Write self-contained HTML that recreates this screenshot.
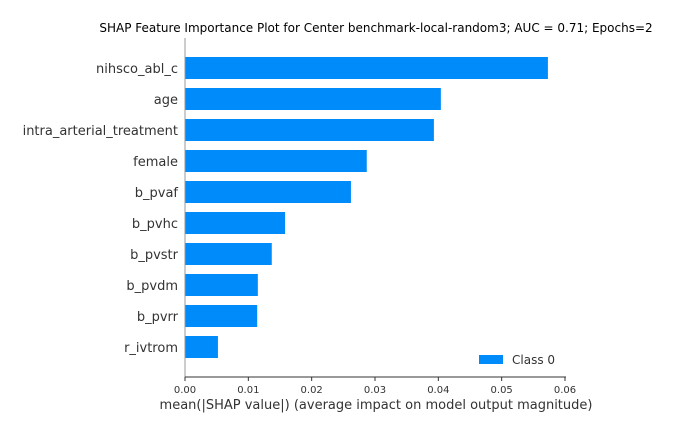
<!DOCTYPE html>
<html><head><meta charset="utf-8"><style>
body{margin:0;background:#fff;}
svg{display:block;font-family:"DejaVu Sans","Liberation Sans",sans-serif;}
</style></head><body>
<svg id="chart" width="674" height="433">
<text x="376" y="32" text-anchor="middle" font-size="12" fill="#000">SHAP Feature Importance Plot for Center benchmark-local-random3; AUC = 0.71; Epochs=2</text>
<g id="bars"></g>
<g id="ylabels"></g>
<g id="xticks"></g>
<line x1="185" y1="38" x2="185" y2="377" stroke="#999" stroke-width="1"/>
<line x1="185" y1="377" x2="566" y2="377" stroke="#333" stroke-width="1"/>
<text x="376" y="409" text-anchor="middle" font-size="13" fill="#333">mean(|SHAP value|) (average impact on model output magnitude)</text>
<g>
<rect x="479" y="355" width="24" height="9" fill="#008bfb"/>
<text x="512" y="364" font-size="12" fill="#333">Class 0</text>
</g>
</svg>
<script>
const features=["nihsco_abl_c","age","intra_arterial_treatment","female","b_pvaf","b_pvhc","b_pvstr","b_pvdm","b_pvrr","r_ivtrom"];
const values=[0.0573,0.0404,0.0393,0.0287,0.0262,0.0158,0.0137,0.0115,0.0114,0.0052];
const ticks=[0,0.01,0.02,0.03,0.04,0.05,0.06];
const tickLabels=["0.00","0.01","0.02","0.03","0.04","0.05","0.06"];
const NS="http://www.w3.org/2000/svg";
const x=v=>185+v*(380/0.06);
const y=i=>68+i*31;
const bars=document.getElementById('bars'),yl=document.getElementById('ylabels'),xt=document.getElementById('xticks');
features.forEach((f,i)=>{
  const r=document.createElementNS(NS,'rect');
  r.setAttribute('x',x(0));r.setAttribute('y',y(i)-11);
  r.setAttribute('width',x(values[i])-x(0));r.setAttribute('height',22);
  r.setAttribute('fill','#008bfb');
  
  
  bars.appendChild(r);
  const t=document.createElementNS(NS,'text');
  t.setAttribute('x',178);t.setAttribute('y',y(i)+5);
  t.setAttribute('text-anchor','end');t.setAttribute('font-size','13');t.setAttribute('fill','#333');
  t.textContent=f;
  
  
  yl.appendChild(t);
});
ticks.forEach((v,i)=>{
  const l=document.createElementNS(NS,'line');
  l.setAttribute('x1',x(v));l.setAttribute('x2',x(v));l.setAttribute('y1',377);l.setAttribute('y2',381);
  l.setAttribute('stroke','#333');
  
  
  xt.appendChild(l);
  const t=document.createElementNS(NS,'text');
  t.setAttribute('x',x(v));t.setAttribute('y',393);t.setAttribute('text-anchor','middle');
  t.setAttribute('font-size','10');t.setAttribute('fill','#333');
  t.textContent=tickLabels[i];
  
  
  xt.appendChild(t);
});
</script>
</body></html>
